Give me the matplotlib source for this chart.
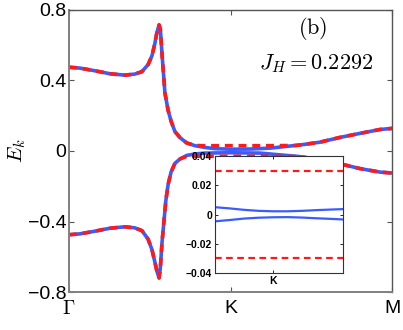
import numpy as np
import matplotlib
matplotlib.use("Agg")
import matplotlib.pyplot as plt

plt.rcParams['mathtext.fontset'] = 'cm'
plt.rcParams['font.family'] = ['Liberation Sans', 'DejaVu Sans']

# ---- band data (k along path, Gamma=0, K=0.5, M=1) ----
k_up = [0.0, 0.034, 0.080, 0.127, 0.173, 0.204, 0.226, 0.245, 0.257, 0.266, 0.272,
        0.279, 0.283, 0.288, 0.293, 0.297, 0.307, 0.316, 0.328, 0.344, 0.365,
        0.390, 0.421, 0.452, 0.5, 0.560, 0.622, 0.653, 0.684, 0.715, 0.731,
        0.777, 0.839, 0.901, 0.963, 1.0]
E_up = [0.475, 0.470, 0.455, 0.438, 0.430, 0.436, 0.450, 0.490, 0.540, 0.610, 0.670,
        0.715, 0.690, 0.550, 0.430, 0.330, 0.230, 0.170, 0.110, 0.075, 0.045,
        0.030, 0.020, 0.013, 0.010, 0.011, 0.016, 0.022, 0.028, 0.034, 0.038,
        0.050, 0.077, 0.100, 0.122, 0.128]

k_dn = [0.0, 0.034, 0.080, 0.127, 0.173, 0.204, 0.226, 0.245, 0.257, 0.266, 0.272,
        0.279, 0.283, 0.288, 0.294, 0.300, 0.307, 0.316, 0.328, 0.344, 0.365,
        0.390, 0.421, 0.5, 0.591, 0.653, 0.684, 0.715, 0.777, 0.839, 0.901,
        0.963, 1.0]
E_dn = [-0.475, -0.470, -0.455, -0.438, -0.430, -0.436, -0.452, -0.500, -0.560, -0.630, -0.680,
        -0.720, -0.660, -0.520, -0.400, -0.280, -0.190, -0.120, -0.070, -0.045, -0.025,
        -0.017, -0.012, -0.010, -0.012, -0.022, -0.027, -0.032, -0.050, -0.073, -0.100,
        -0.120, -0.125]

# red (dashed) bands: same as blue except flat part around K
k_red = [0.0, 0.034, 0.080, 0.127, 0.173, 0.204, 0.226, 0.245, 0.257, 0.266, 0.272,
         0.279, 0.283, 0.288, 0.293, 0.297, 0.307, 0.316, 0.328, 0.344, 0.365,
         0.390, 0.410, 0.5, 0.600, 0.700, 0.731, 0.777, 0.839, 0.901, 0.963, 1.0]
E_red_up = [0.475, 0.470, 0.455, 0.438, 0.430, 0.436, 0.450, 0.490, 0.540, 0.610, 0.670,
            0.715, 0.690, 0.550, 0.430, 0.330, 0.230, 0.170, 0.110, 0.075, 0.045,
            0.032, 0.030, 0.030, 0.030, 0.031, 0.038, 0.050, 0.077, 0.100, 0.122, 0.128]
k_red_dn = [0.0, 0.034, 0.080, 0.127, 0.173, 0.204, 0.226, 0.245, 0.257, 0.266, 0.272,
            0.279, 0.283, 0.288, 0.294, 0.300, 0.307, 0.316, 0.328, 0.344, 0.365,
            0.390, 0.410, 0.5, 0.600, 0.715, 0.777, 0.839, 0.901, 0.963, 1.0]
E_red_dn = [-0.475, -0.470, -0.455, -0.438, -0.430, -0.436, -0.452, -0.500, -0.560, -0.630, -0.680,
            -0.720, -0.660, -0.520, -0.400, -0.280, -0.190, -0.120, -0.070, -0.045, -0.030,
            -0.030, -0.030, -0.030, -0.030, -0.032, -0.050, -0.073, -0.100, -0.120, -0.125]

# inset (zoom around K)
k_in = [-1.0, -0.75, -0.5, -0.25, 0.0, 0.25, 0.5, 0.75, 1.0, 1.2]
E_in_up = [0.0050, 0.0042, 0.0032, 0.0025, 0.0022, 0.0022, 0.0025, 0.0030, 0.0034, 0.0037]
E_in_dn = [-0.0047, -0.0038, -0.0028, -0.0022, -0.0019, -0.0018, -0.0021, -0.0026, -0.0030, -0.0034]
E_in_red = 0.03

BLUE = '#3a5cff'
RED = '#ff1a1a'

fig = plt.figure(figsize=(4.03, 3.30), dpi=100)
ax = fig.add_axes([0.171, 0.115, 0.802, 0.855])

ax.plot(k_up, E_up, color=BLUE, lw=2.6, solid_capstyle='round')
ax.plot(k_dn, E_dn, color=BLUE, lw=2.6, solid_capstyle='round')
ax.plot(k_red, E_red_up, color=RED, lw=2.6, ls=(0, (2.2, 1.6)))
ax.plot(k_red_dn, E_red_dn, color=RED, lw=2.6, ls=(0, (2.2, 1.6)))

ax.set_xlim(0, 1)
ax.set_ylim(-0.8, 0.8)
ax.set_yticks([-0.8, -0.4, 0, 0.4, 0.8])
ax.set_yticklabels(['\u22120.8', '\u22120.4', '0', '0.4', '0.8'], fontsize=14)
ax.set_xticks([0, 0.5, 1])
ax.set_xticklabels([r'$\Gamma$', 'K', 'M'], fontsize=14)
ax.tick_params(direction='in', top=True, right=True, length=3.5, width=0.8,
               color='#555555')
ax.tick_params(axis='x', pad=6)
ax.tick_params(axis='y', pad=2)
for s in ['left', 'bottom']:
    ax.spines[s].set_color('#808080')
    ax.spines[s].set_linewidth(1.4)
for s in ['top', 'right']:
    ax.spines[s].set_color('#555555')
    ax.spines[s].set_linewidth(1.0)

ax.set_ylabel(r'$E_k$', fontsize=15, labelpad=0)

ax.text(0.755, 0.933, r'$\mathrm{(b)}$', transform=ax.transAxes, fontsize=16,
        ha='center', va='center')
ax.text(0.765, 0.809, r'$J_H=0.2292$', transform=ax.transAxes, fontsize=16,
        ha='center', va='center')

# inset
axi = fig.add_axes([0.533, 0.173, 0.318, 0.354])
axi.plot(k_in, E_in_up, color=BLUE, lw=1.6)
axi.plot(k_in, E_in_dn, color=BLUE, lw=1.6)
axi.axhline(E_in_red, color=RED, lw=1.6, ls=(0, (3, 2)))
axi.axhline(-E_in_red, color=RED, lw=1.6, ls=(0, (3, 2)))
axi.set_xlim(-1.0, 1.2)
axi.set_ylim(-0.04, 0.04)
axi.set_yticks([-0.04, -0.02, 0, 0.02, 0.04])
axi.set_yticklabels(['\u22120.04', '\u22120.02', '0', '0.02', '0.04'],
                    fontsize=7.5, fontweight='bold')
axi.set_xticks([0])
axi.set_xticklabels(['K'], fontsize=7.5, fontweight='bold')
axi.tick_params(direction='in', top=True, right=True, length=2.5, width=0.6, pad=2)
for s in axi.spines.values():
    s.set_linewidth(0.8)
    s.set_color('#333333')

fig.savefig('out.png', dpi=100)
